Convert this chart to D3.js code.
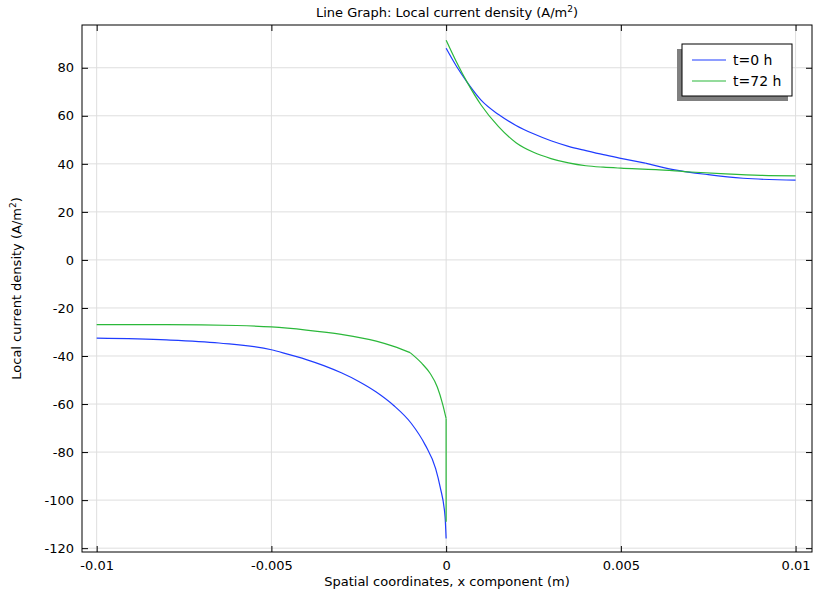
<!DOCTYPE html>
<html><head><meta charset="utf-8">
<script src="https://cdn.jsdelivr.net/npm/d3@7"></script>
<style>body{margin:0;background:#fff;} text{font-family:"DejaVu Sans",sans-serif;}</style>
</head><body><svg id="c" width="813" height="593"></svg>
<script>
const seriesNames = ["t=0 h", "t=72 h"];
const seriesColors = ["#1f3cff", "#2bb83a"];
// t=0 h, left (x<0) and right (x>0) branches
const xBlueL = [-0.01,-0.008,-0.0065,-0.005,-0.00467,-0.004,-0.0035,-0.003,-0.0025,-0.002,-0.0015,-0.001,-0.0006,-0.0003,-0.00017,-0.00003,0];
const yBlueL = [-32.6,-33.3,-34.6,-37.4,-38.7,-41.5,-44.0,-47.0,-50.6,-55.0,-60.6,-68.0,-77.0,-86.9,-94.6,-107,-116];
const xBlueR = [0,0.0003,0.0006,0.001,0.0015,0.002,0.0025,0.003,0.0035,0.004,0.0045,0.005,0.0057,0.0065,0.0075,0.0085,0.01];
const yBlueR = [88.1,80.5,74,66.5,60.5,56,52.5,49.6,47.3,45.5,43.8,42.3,40.3,37.6,35.5,34.0,33.2];
// t=72 h
const xGreenL = [-0.01,-0.008,-0.006,-0.005,-0.004,-0.003,-0.002,-0.0015,-0.00103,-0.0007,-0.00046,-0.00025,-0.0001,0,0];
const yGreenL = [-26.9,-26.9,-27.3,-27.9,-29.2,-31.0,-33.8,-36,-38.6,-43,-47.2,-53,-60,-66,-109];
const xGreenR = [0,0.0003,0.0006,0.001,0.0015,0.002,0.0025,0.003,0.0035,0.004,0.0045,0.005,0.006,0.007,0.008,0.009,0.01];
const yGreenR = [91.5,82.3,74,64.5,55.5,48.8,44.8,42.2,40.4,39.2,38.6,38.2,37.6,36.6,35.8,35.2,35];
const xTicks = [-0.01,-0.005,0,0.005,0.01];
const xTickLabels = ["-0.01","-0.005","0","0.005","0.01"];
const yTicks = [-120,-100,-80,-60,-40,-20,0,20,40,60,80];

const svg = d3.select("#c");
const L=82,R=812,T=25,B=552;
const x = d3.scaleLinear().domain([-0.01042,0.01047]).range([L,R]);
const y = d3.scaleLinear().domain([-121.6,97.8]).range([B,T]);

svg.append("g").selectAll("line").data(xTicks).join("line")
  .attr("x1",d=>x(d)).attr("x2",d=>x(d)).attr("y1",T).attr("y2",B)
  .attr("stroke","#dedede").attr("stroke-width",1);
svg.append("g").selectAll("line").data(yTicks).join("line")
  .attr("x1",L).attr("x2",R).attr("y1",d=>y(d)).attr("y2",d=>y(d))
  .attr("stroke","#dedede").attr("stroke-width",1);

const zip = (a,b)=>a.map((v,k)=>[v,b[k]]);
const lineSmooth = d3.line().x(d=>x(d[0])).y(d=>y(d[1])).curve(d3.curveMonotoneX);
const lineLin = d3.line().x(d=>x(d[0])).y(d=>y(d[1]));
// split each branch at its kink points (indices) so corners stay sharp
function pieces(xs, ys, cuts){
  const out=[]; let s=0;
  cuts.concat([xs.length-1]).forEach(c=>{ out.push(zip(xs.slice(s,c+1), ys.slice(s,c+1))); s=c; });
  return out;
}
const segs = [
  ...pieces(xBlueL,yBlueL,[4]).map(s=>[s,0]),
  ...pieces(xBlueR,yBlueR,[12]).map(s=>[s,0]),
  ...pieces(xGreenL,yGreenL,[8,13]).map(s=>[s,1]),
  ...pieces(xGreenR,yGreenR,[]).map(s=>[s,1])];
segs.forEach(([s,i])=>{
  const vertical = s.every(p=>p[0]===s[0][0]);
  svg.append("path").datum(s).attr("d",vertical?lineLin:lineSmooth)
    .attr("fill","none").attr("stroke",seriesColors[i]).attr("stroke-width",1.2);
});

const fmtX = (d,i)=>xTickLabels[i];
const gB = svg.append("g").attr("transform",`translate(0,${B})`).call(d3.axisBottom(x).tickValues(xTicks).tickFormat(fmtX).tickSizeInner(-6).tickSizeOuter(0).tickPadding(9));
const gT = svg.append("g").attr("transform",`translate(0,${T})`).call(d3.axisTop(x).tickValues(xTicks).tickFormat("").tickSizeInner(-6).tickSizeOuter(0));
const gL = svg.append("g").attr("transform",`translate(${L},0)`).call(d3.axisLeft(y).tickValues(yTicks).tickFormat(d=>d).tickSizeInner(-6).tickSizeOuter(0).tickPadding(8));
const gR = svg.append("g").attr("transform",`translate(${R},0)`).call(d3.axisRight(y).tickValues(yTicks).tickFormat("").tickSizeInner(-6).tickSizeOuter(0));
[gB,gT,gL,gR].forEach(g=>{g.select(".domain").remove(); g.selectAll("line").attr("stroke","#000");
  g.selectAll("text").attr("font-size",13).attr("fill","#000").style("font-family","DejaVu Sans");});
svg.append("rect").attr("x",L).attr("y",T).attr("width",R-L).attr("height",B-T)
  .attr("fill","none").attr("stroke","#000").attr("stroke-width",1);

const t = svg.append("text").attr("x",447).attr("y",17).attr("text-anchor","middle").attr("font-size",13);
t.append("tspan").text("Line Graph: Local current density (A/m");
t.append("tspan").text("2").attr("font-size",9).attr("dy",-5);
t.append("tspan").text(")").attr("dy",5);
svg.append("text").attr("x",447).attr("y",586).attr("text-anchor","middle").attr("font-size",13)
  .text("Spatial coordinates, x component (m)");
const yl = svg.append("text").attr("transform",`translate(21,${(T+B)/2}) rotate(-90)`).attr("text-anchor","middle").attr("font-size",13);
yl.append("tspan").text("Local current density (A/m");
yl.append("tspan").text("2").attr("font-size",9).attr("dy",-5);
yl.append("tspan").text(")").attr("dy",5);

const lg = svg.append("g");
lg.append("rect").attr("x",677).attr("y",49).attr("width",111).attr("height",52).attr("fill","#808080");
lg.append("rect").attr("x",682).attr("y",44).attr("width",110).attr("height",52).attr("fill","#fff").attr("stroke","#000");
seriesNames.forEach((n,i)=>{
  lg.append("line").attr("x1",692).attr("x2",726).attr("y1",60+i*21).attr("y2",60+i*21).attr("stroke",seriesColors[i]).attr("stroke-width",1.2);
  lg.append("text").attr("x",733).attr("y",65+i*21).attr("font-size",14).text(n);
});
</script></body></html>
